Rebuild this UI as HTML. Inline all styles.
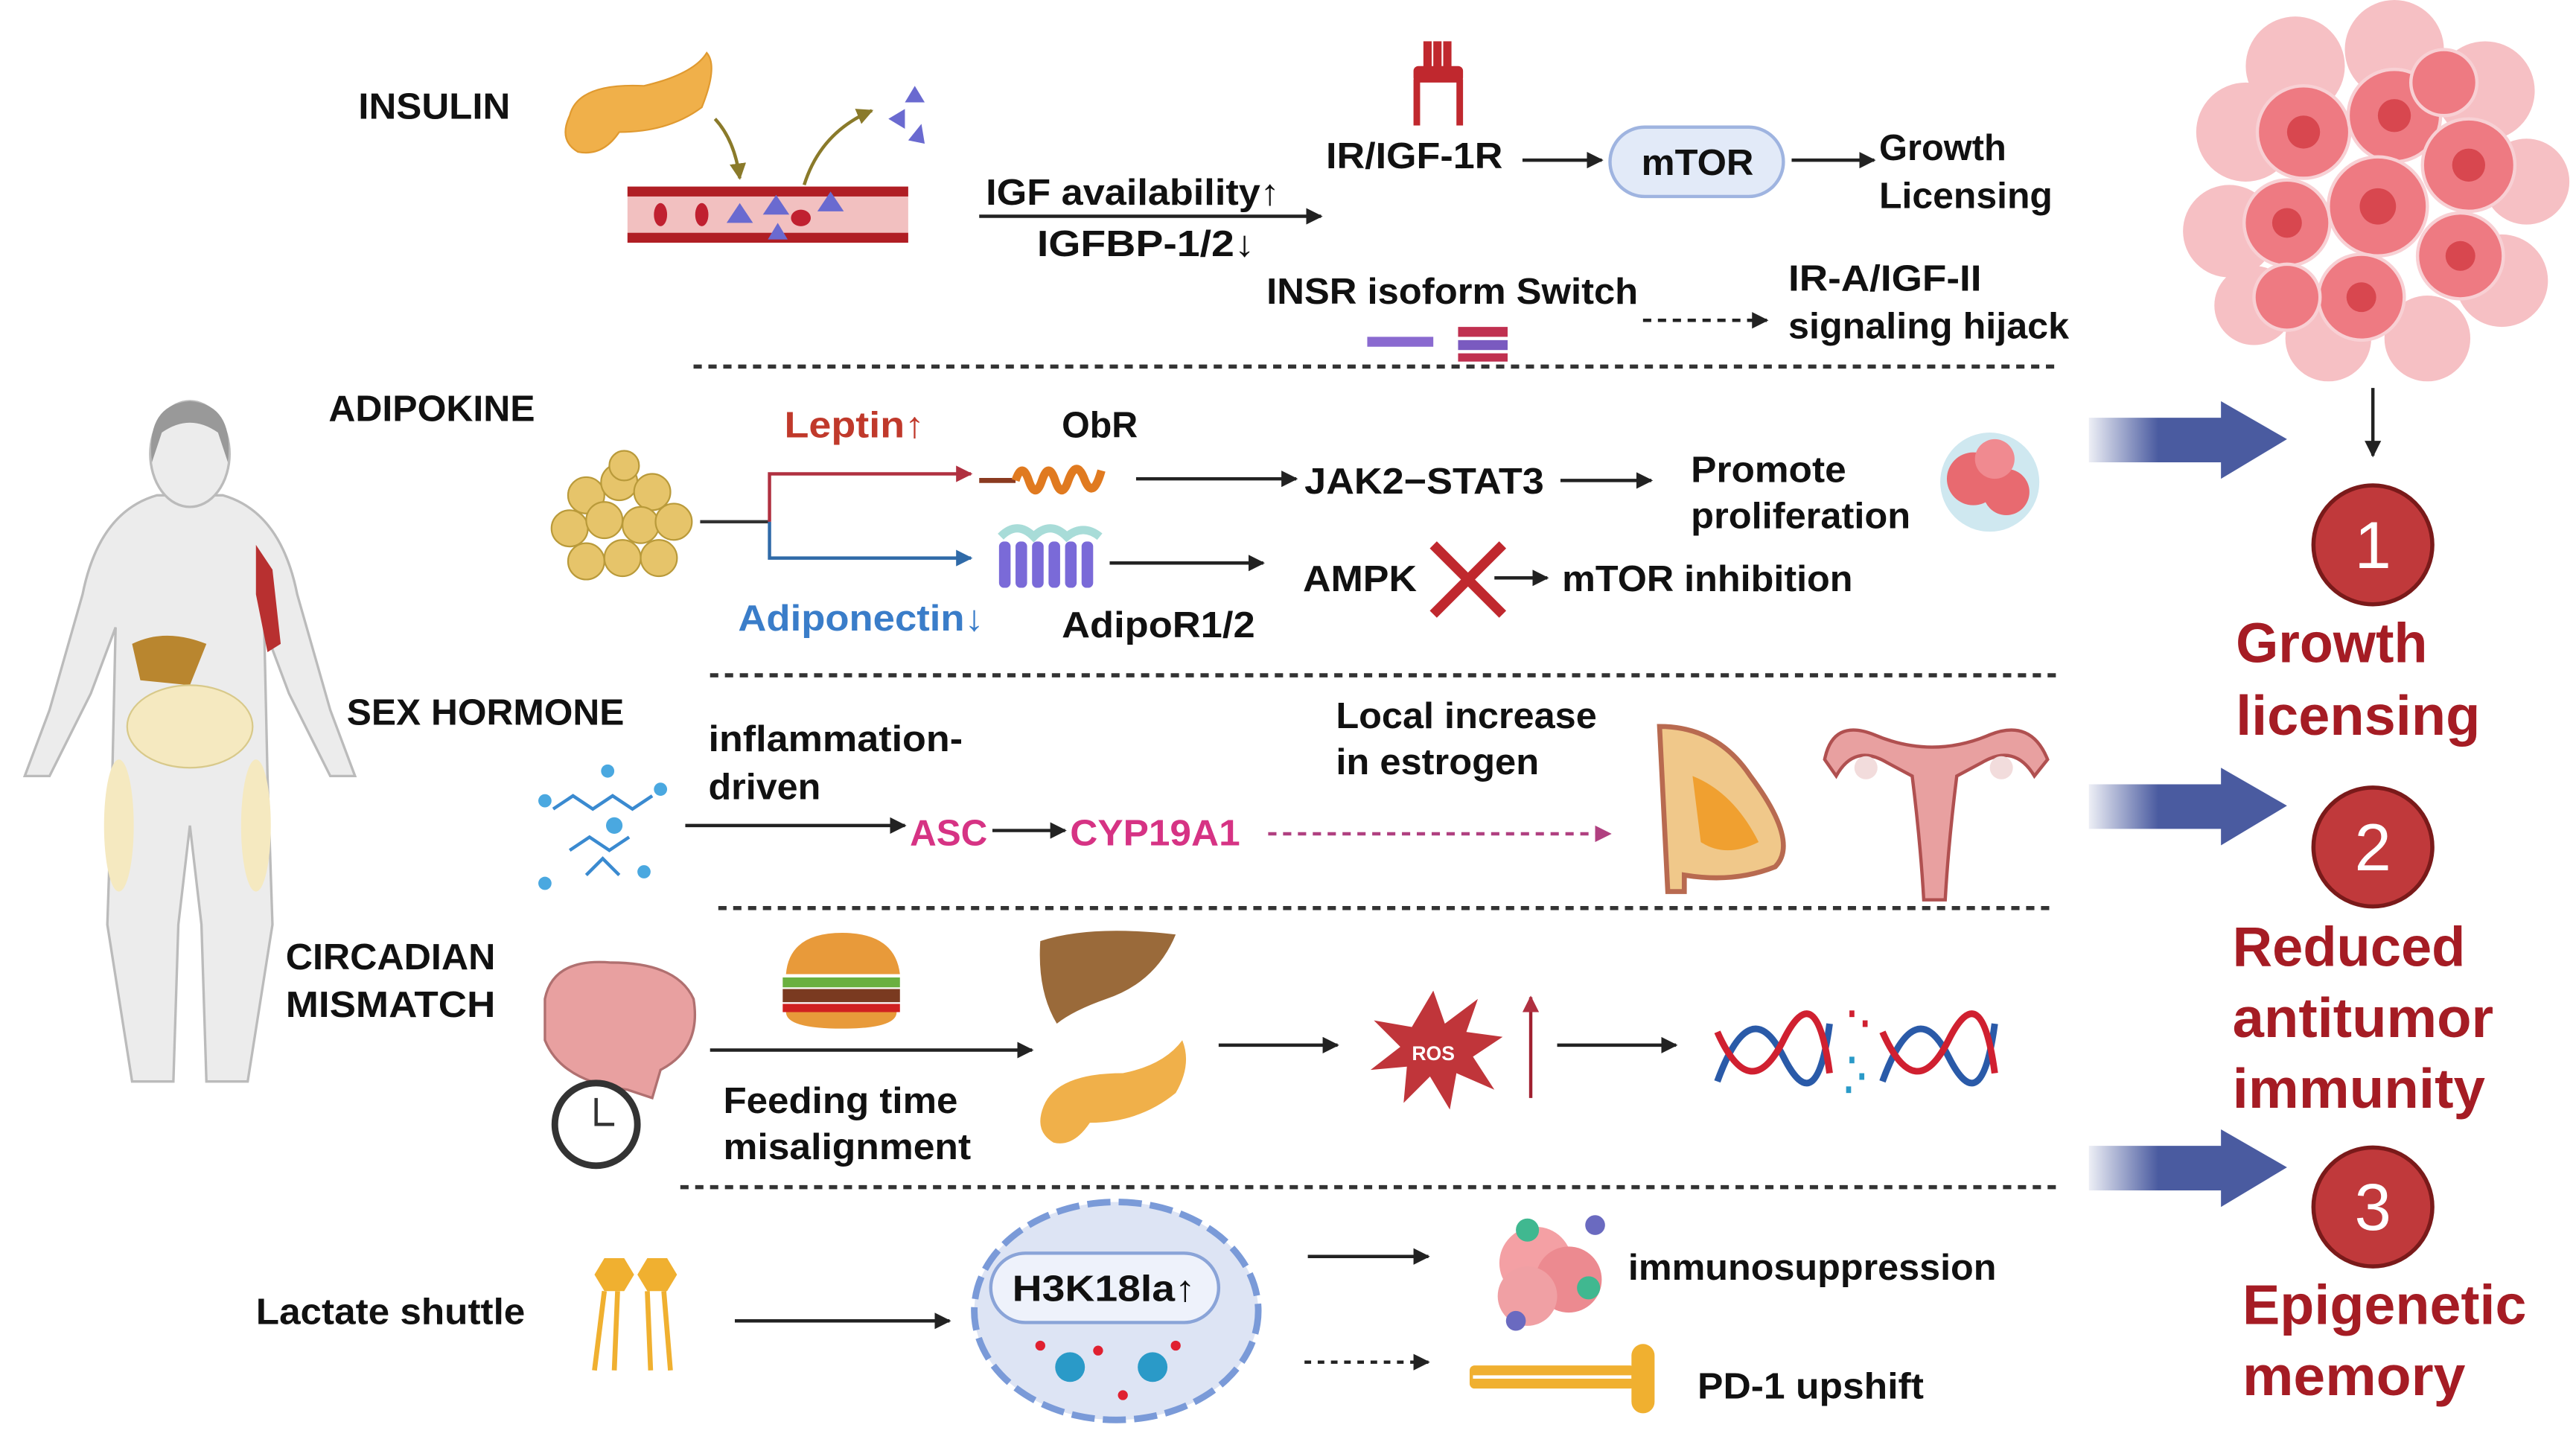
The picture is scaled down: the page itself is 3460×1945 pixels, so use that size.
<!DOCTYPE html>
<html><head><meta charset="utf-8"><style>
html,body{margin:0;padding:0;background:#fff;width:3460px;height:1945px;overflow:hidden}
svg{display:block}
text{font-family:"Liberation Sans",Arial,sans-serif;font-weight:bold;fill:#111}
.l{font-size:22px}
.r{font-size:34px;fill:#a51c24}
</style></head><body>
<svg width="3460" height="1945" viewBox="0 0 1560 877" preserveAspectRatio="none" xmlns="http://www.w3.org/2000/svg">
<defs>
<marker id="a" viewBox="0 0 10 10" refX="9" refY="5" markerWidth="5" markerHeight="5" orient="auto"><path d="M0,0L10,5L0,10z" fill="#222"/></marker>
<marker id="ar" viewBox="0 0 10 10" refX="9" refY="5" markerWidth="5" markerHeight="5" orient="auto"><path d="M0,0L10,5L0,10z" fill="#b03040"/></marker>
<marker id="ab" viewBox="0 0 10 10" refX="9" refY="5" markerWidth="5" markerHeight="5" orient="auto"><path d="M0,0L10,5L0,10z" fill="#2f6aa8"/></marker>
<marker id="ap" viewBox="0 0 10 10" refX="9" refY="5" markerWidth="5" markerHeight="5" orient="auto"><path d="M0,0L10,5L0,10z" fill="#b04080"/></marker>
<marker id="ao" viewBox="0 0 10 10" refX="9" refY="5" markerWidth="5" markerHeight="5" orient="auto"><path d="M0,0L10,5L0,10z" fill="#8a7a2a"/></marker>
<linearGradient id="g" x1="0" x2="1"><stop offset="0" stop-color="#4a5ba0" stop-opacity="0.1"/><stop offset="0.35" stop-color="#4a5ba0"/><stop offset="1" stop-color="#4a5ba0"/></linearGradient>
</defs>

<!-- human figure -->
<g fill="#ececec" stroke="#bbb" stroke-width="1.5">
<path d="M95,300 Q60,310 50,360 L30,430 L15,470 L30,470 L55,420 L70,380 L68,470 L65,560 L80,655 L105,655 L108,560 L115,500 L122,560 L125,655 L150,655 L165,560 L162,470 L160,380 L175,420 L200,470 L215,470 L200,430 L180,360 Q170,310 135,300 Z"/>
<ellipse cx="115" cy="275" rx="24" ry="32"/>
</g>
<path d="M92,280 Q88,245 115,243 Q142,245 138,280 L132,262 Q115,250 98,262 Z" fill="#999"/>
<path d="M80,390 Q100,380 125,390 L115,415 L85,412 Z" fill="#b9862f"/>
<ellipse cx="115" cy="440" rx="38" ry="25" fill="#f5e9c0" stroke="#d8c98a"/>
<path d="M155,330 L165,345 L170,390 L162,395 L155,360 Z" fill="#b83030"/>
<ellipse cx="72" cy="500" rx="9" ry="40" fill="#f5e9c0"/><ellipse cx="155" cy="500" rx="9" ry="40" fill="#f5e9c0"/>

<!-- left labels -->
<text class="l" x="217" y="72" textLength="92" lengthAdjust="spacingAndGlyphs">INSULIN</text>
<text class="l" x="199" y="255" textLength="125" lengthAdjust="spacingAndGlyphs">ADIPOKINE</text>
<text class="l" x="210" y="439" textLength="168" lengthAdjust="spacingAndGlyphs">SEX HORMONE</text>
<text class="l" x="173" y="587" textLength="127" lengthAdjust="spacingAndGlyphs">CIRCADIAN</text>
<text class="l" x="173" y="616" textLength="127" lengthAdjust="spacingAndGlyphs">MISMATCH</text>
<text class="l" x="155" y="802" textLength="163" lengthAdjust="spacingAndGlyphs" style="font-weight:600">Lactate shuttle</text>

<!-- INSULIN row -->
<path d="M345,70 Q350,50 390,52 Q420,45 428,32 Q435,40 425,65 Q405,80 375,80 Q365,95 350,92 Q338,85 345,70Z" fill="#f0b04a" stroke="#e09a30"/>
<rect x="380" y="113" width="170" height="34" fill="#f2c0c0"/>
<rect x="380" y="113" width="170" height="6" fill="#b01e24"/><rect x="380" y="141" width="170" height="6" fill="#b01e24"/>
<g fill="#c02030"><ellipse cx="400" cy="130" rx="4" ry="7"/><ellipse cx="425" cy="130" rx="4" ry="7"/><ellipse cx="485" cy="132" rx="6" ry="5"/></g>
<g fill="#6a6ad0"><path d="M440,135l8,-12l8,12z"/><path d="M462,130l8,-12l8,12z"/><path d="M495,128l8,-12l8,12z"/><path d="M465,145l6,-10l6,10z"/><path d="M538,72l10,-6l0,12z"/><path d="M548,62l6,-10l6,10z"/><path d="M550,85l8,-10l2,12z"/></g>
<path d="M433,72 Q445,85 448,108" stroke="#8a7a2a" stroke-width="2" fill="none" marker-end="url(#ao)"/>
<path d="M487,112 Q497,80 528,67" stroke="#8a7a2a" stroke-width="2" fill="none" marker-end="url(#ao)"/>

<text class="l" x="597" y="124" textLength="178" lengthAdjust="spacingAndGlyphs">IGF availability↑</text>
<line x1="593" y1="131" x2="800" y2="131" stroke="#222" stroke-width="2" marker-end="url(#a)"/>
<text class="l" x="628" y="155" textLength="132" lengthAdjust="spacingAndGlyphs">IGFBP-1/2↓</text>
<g fill="#c0282e"><rect x="862" y="25" width="5" height="22"/><rect x="868" y="25" width="5" height="22"/><rect x="874" y="25" width="5" height="22"/><rect x="856" y="40" width="30" height="10" rx="3"/><rect x="856" y="48" width="4" height="28"/><rect x="882" y="48" width="4" height="28"/></g>
<text class="l" x="803" y="102" textLength="107" lengthAdjust="spacingAndGlyphs">IR/IGF-1R</text>
<line x1="922" y1="97" x2="970" y2="97" stroke="#222" stroke-width="2" marker-end="url(#a)"/>
<rect x="975" y="77" width="105" height="42" rx="21" fill="#e2eaf8" stroke="#9fb4e0" stroke-width="2"/>
<text class="l" x="994" y="106" textLength="68" lengthAdjust="spacingAndGlyphs">mTOR</text>
<line x1="1085" y1="97" x2="1135" y2="97" stroke="#222" stroke-width="2" marker-end="url(#a)"/>
<text class="l" x="1138" y="97" textLength="77" lengthAdjust="spacingAndGlyphs">Growth</text>
<text class="l" x="1138" y="126" textLength="105" lengthAdjust="spacingAndGlyphs">Licensing</text>
<text class="l" x="767" y="184" textLength="225" lengthAdjust="spacingAndGlyphs">INSR isoform Switch</text>
<g><rect x="828" y="204" width="40" height="6" fill="#8a6ad0"/><rect x="883" y="198" width="30" height="6" fill="#c03050"/><rect x="883" y="206" width="30" height="6" fill="#7a5ac0"/><rect x="883" y="214" width="30" height="5" fill="#c03050"/></g>
<line x1="995" y1="194" x2="1070" y2="194" stroke="#222" stroke-width="2" stroke-dasharray="5,4" marker-end="url(#a)"/>
<text class="l" x="1083" y="176" textLength="117" lengthAdjust="spacingAndGlyphs">IR-A/IGF-II</text>
<text class="l" x="1083" y="205" textLength="170" lengthAdjust="spacingAndGlyphs">signaling hijack</text>

<g stroke="#333" stroke-width="2.5" stroke-dasharray="5,4">
<line x1="420" y1="222" x2="1248" y2="222"/><line x1="430" y1="409" x2="1248" y2="409"/><line x1="435" y1="550" x2="1245" y2="550"/><line x1="412" y1="719" x2="1248" y2="719"/>
</g>

<!-- ADIPOKINE -->
<g fill="#e6c46a" stroke="#b99a3a" stroke-width="1">
<circle cx="355" cy="300" r="11"/><circle cx="375" cy="292" r="11"/><circle cx="395" cy="298" r="11"/><circle cx="345" cy="320" r="11"/><circle cx="366" cy="315" r="11"/><circle cx="388" cy="318" r="11"/><circle cx="408" cy="316" r="11"/><circle cx="355" cy="340" r="11"/><circle cx="377" cy="338" r="11"/><circle cx="399" cy="338" r="11"/><circle cx="378" cy="282" r="9"/>
</g>
<line x1="424" y1="316" x2="466" y2="316" stroke="#333" stroke-width="2"/>
<path d="M466,316 V287 H588" fill="none" stroke="#b03040" stroke-width="2" marker-end="url(#ar)"/>
<path d="M466,316 V338 H588" fill="none" stroke="#2f6aa8" stroke-width="2" marker-end="url(#ab)"/>
<text class="l" x="475" y="265" style="fill:#c0392b" textLength="85" lengthAdjust="spacingAndGlyphs">Leptin↑</text>
<text class="l" x="643" y="265" textLength="46" lengthAdjust="spacingAndGlyphs">ObR</text>
<line x1="593" y1="291" x2="615" y2="291" stroke="#8a3a20" stroke-width="3"/>
<path d="M615,291 q4,-12 8,0 q4,12 8,0 q4,-12 8,0 q4,12 8,0 q5,-14 10,0 q5,12 10,-6" fill="none" stroke="#e07a20" stroke-width="5"/>
<line x1="688" y1="290" x2="785" y2="290" stroke="#222" stroke-width="2" marker-end="url(#a)"/>
<text class="l" x="790" y="299" textLength="145" lengthAdjust="spacingAndGlyphs">JAK2−STAT3</text>
<line x1="945" y1="291" x2="1000" y2="291" stroke="#222" stroke-width="2" marker-end="url(#a)"/>
<text class="l" x="1024" y="292" textLength="94" lengthAdjust="spacingAndGlyphs">Promote</text>
<text class="l" x="1024" y="320" textLength="133" lengthAdjust="spacingAndGlyphs">proliferation</text>
<g><circle cx="1205" cy="292" r="30" fill="#cfe8f0"/><circle cx="1195" cy="290" r="16" fill="#e86a70"/><circle cx="1215" cy="298" r="14" fill="#e86a70"/><circle cx="1208" cy="278" r="12" fill="#f08a90"/></g>
<g fill="#7a6ad8"><rect x="605" y="328" width="7" height="28" rx="3"/><rect x="615" y="328" width="7" height="28" rx="3"/><rect x="625" y="328" width="7" height="28" rx="3"/><rect x="635" y="328" width="7" height="28" rx="3"/><rect x="645" y="328" width="7" height="28" rx="3"/><rect x="655" y="328" width="7" height="28" rx="3"/></g>
<path d="M606,325 q10,-10 20,0 q10,-10 20,0 q10,-8 20,0" fill="none" stroke="#a8dcd8" stroke-width="5"/>
<line x1="672" y1="341" x2="765" y2="341" stroke="#222" stroke-width="2" marker-end="url(#a)"/>
<text class="l" x="447" y="382" style="fill:#3a7dc9" textLength="149" lengthAdjust="spacingAndGlyphs">Adiponectin↓</text>
<text class="l" x="643" y="386" textLength="117" lengthAdjust="spacingAndGlyphs">AdipoR1/2</text>
<text class="l" x="789" y="358" textLength="69" lengthAdjust="spacingAndGlyphs">AMPK</text>
<g stroke="#c0282e" stroke-width="6"><line x1="868" y1="330" x2="910" y2="372"/><line x1="910" y1="330" x2="868" y2="372"/></g>
<line x1="905" y1="350" x2="937" y2="350" stroke="#222" stroke-width="2" marker-end="url(#a)"/>
<text class="l" x="946" y="358" textLength="176" lengthAdjust="spacingAndGlyphs">mTOR inhibition</text>

<!-- SEX HORMONE -->
<g fill="none" stroke="#3a8ad0" stroke-width="2"><path d="M335,490 l12,-8 l12,8 l12,-8 l12,8 l12,-8"/><path d="M345,515 l12,-8 l12,8 l12,-8"/><path d="M355,530 l10,-10 l10,10"/></g>
<g fill="#4aa8e0"><circle cx="330" cy="485" r="4"/><circle cx="368" cy="467" r="4"/><circle cx="400" cy="478" r="4"/><circle cx="390" cy="528" r="4"/><circle cx="330" cy="535" r="4"/><circle cx="372" cy="500" r="5"/></g>
<text class="l" x="429" y="455" textLength="154" lengthAdjust="spacingAndGlyphs">inflammation-</text>
<text class="l" x="429" y="484" textLength="68" lengthAdjust="spacingAndGlyphs">driven</text>
<line x1="415" y1="500" x2="548" y2="500" stroke="#222" stroke-width="2" marker-end="url(#a)"/>
<text class="l" x="551" y="512" style="fill:#d63384" textLength="47" lengthAdjust="spacingAndGlyphs">ASC</text>
<line x1="601" y1="503" x2="645" y2="503" stroke="#222" stroke-width="2" marker-end="url(#a)"/>
<text class="l" x="648" y="512" style="fill:#d63384" textLength="103" lengthAdjust="spacingAndGlyphs">CYP19A1</text>
<line x1="768" y1="505" x2="975" y2="505" stroke="#b04080" stroke-width="2" stroke-dasharray="5,4" marker-end="url(#ap)"/>
<text class="l" x="809" y="441" textLength="158" lengthAdjust="spacingAndGlyphs">Local increase</text>
<text class="l" x="809" y="469" textLength="123" lengthAdjust="spacingAndGlyphs">in estrogen</text>
<path d="M1005,440 Q1040,440 1060,470 Q1090,510 1075,525 Q1050,535 1020,530 L1020,540 L1010,540 Z" fill="#f0c88a" stroke="#b86a50" stroke-width="3"/>
<path d="M1025,470 Q1050,480 1065,510 Q1045,520 1030,510 Z" fill="#f0a030"/>
<path d="M1105,460 Q1110,435 1135,445 Q1170,460 1205,445 Q1230,435 1240,460 L1232,470 Q1220,450 1200,462 L1185,470 Q1180,510 1178,545 L1165,545 Q1163,510 1158,470 L1143,462 Q1123,450 1112,470 Z" fill="#e8a0a0" stroke="#b05050" stroke-width="2"/>
<circle cx="1130" cy="465" r="7" fill="#f2dcdc"/><circle cx="1212" cy="465" r="7" fill="#f2dcdc"/>

<!-- CIRCADIAN -->
<path d="M330,605 Q335,580 370,583 Q410,583 420,605 Q425,635 400,648 L395,665 L380,660 Q340,655 330,630 Z" fill="#e8a0a0" stroke="#b07070" stroke-width="1.5"/>
<circle cx="361" cy="681" r="25" fill="#fff" stroke="#333" stroke-width="4"/><path d="M361,665 V681 H372" stroke="#333" stroke-width="2" fill="none"/>
<path d="M476,590 Q478,565 510,565 Q542,565 545,590Z" fill="#e89a3a"/><rect x="474" y="592" width="71" height="6" fill="#6ab040"/><rect x="474" y="599" width="71" height="8" fill="#7a3a20"/><rect x="474" y="608" width="71" height="5" fill="#d02020"/><path d="M476,613 H543 Q543,623 510,623 Q476,623 476,613Z" fill="#e89a3a"/>
<line x1="430" y1="636" x2="625" y2="636" stroke="#222" stroke-width="2" marker-end="url(#a)"/>
<text class="l" x="438" y="674" textLength="142" lengthAdjust="spacingAndGlyphs">Feeding time</text>
<text class="l" x="438" y="702" textLength="150" lengthAdjust="spacingAndGlyphs">misalignment</text>
<path d="M630,570 Q660,560 712,566 Q700,595 670,605 Q650,612 640,620 Q628,600 630,570Z" fill="#9a6a3a"/>
<path d="M632,670 Q640,650 680,650 Q705,645 716,630 Q722,645 712,662 Q690,680 660,680 Q650,695 638,692 Q626,685 632,670Z" fill="#f0b04a"/>
<line x1="738" y1="633" x2="810" y2="633" stroke="#222" stroke-width="2" marker-end="url(#a)"/>
<path d="M868,600 L875,620 L895,605 L888,625 L910,628 L892,640 L905,660 L882,650 L878,672 L866,652 L850,668 L852,646 L830,648 L848,634 L832,618 L855,622 Z" fill="#c0353a"/>
<text x="855" y="642" style="font-size:12px;fill:#fff">ROS</text>
<line x1="927" y1="665" x2="927" y2="604" stroke="#a02030" stroke-width="2" marker-end="url(#ar)"/>
<line x1="943" y1="633" x2="1015" y2="633" stroke="#222" stroke-width="2" marker-end="url(#a)"/>
<g fill="none" stroke-width="4"><path d="M1040,655 Q1060,600 1080,640 T1108,620" stroke="#2a5aa8"/><path d="M1040,625 Q1060,670 1080,630 T1108,650" stroke="#d02030"/><path d="M1140,655 Q1160,600 1180,640 T1208,620" stroke="#2a5aa8"/><path d="M1140,625 Q1160,670 1180,630 T1208,650" stroke="#d02030"/></g>
<g fill="#2a9ac8"><rect x="1120" y="640" width="3" height="4"/><rect x="1126" y="650" width="3" height="4"/><rect x="1118" y="658" width="3" height="4"/></g><g fill="#d02030"><rect x="1120" y="612" width="3" height="4"/><rect x="1128" y="618" width="3" height="4"/></g>

<!-- LACTATE -->
<g fill="#f0b030"><path d="M360,772 l6,-10 h12 l6,10 l-6,10 h-12z"/><path d="M386,772 l6,-10 h12 l6,10 l-6,10 h-12z"/></g>
<g stroke="#f0b030" stroke-width="3"><line x1="366" y1="782" x2="360" y2="830"/><line x1="374" y1="782" x2="372" y2="830"/><line x1="392" y1="782" x2="394" y2="830"/><line x1="402" y1="782" x2="406" y2="830"/></g>
<line x1="445" y1="800" x2="575" y2="800" stroke="#222" stroke-width="2" marker-end="url(#a)"/>
<ellipse cx="676" cy="794" rx="86" ry="66" fill="#dde4f4" stroke="#7a9ad8" stroke-width="4" stroke-dasharray="14,5"/>
<rect x="600" y="759" width="138" height="42" rx="21" fill="#eef2fb" stroke="#8aa4d8" stroke-width="2"/>
<text class="l" x="613" y="788" textLength="111" lengthAdjust="spacingAndGlyphs">H3K18la↑</text>
<g fill="#2a9ac8"><circle cx="648" cy="828" r="9"/><circle cx="698" cy="828" r="9"/></g><g fill="#e02030"><circle cx="630" cy="815" r="3"/><circle cx="665" cy="818" r="3"/><circle cx="680" cy="845" r="3"/><circle cx="712" cy="815" r="3"/></g>
<line x1="792" y1="761" x2="865" y2="761" stroke="#222" stroke-width="2" marker-end="url(#a)"/>
<line x1="790" y1="825" x2="865" y2="825" stroke="#222" stroke-width="2" stroke-dasharray="4,4" marker-end="url(#a)"/>
<g><circle cx="930" cy="765" r="22" fill="#f4a0a4"/><circle cx="950" cy="775" r="20" fill="#ec8a90"/><circle cx="925" cy="785" r="18" fill="#f0a0a4"/><circle cx="925" cy="745" r="7" fill="#40b890"/><circle cx="962" cy="780" r="7" fill="#40b890"/><circle cx="966" cy="742" r="6" fill="#6a6ac0"/><circle cx="918" cy="800" r="6" fill="#6a6ac0"/></g>
<text class="l" x="986" y="775" textLength="223" lengthAdjust="spacingAndGlyphs">immunosuppression</text>
<rect x="890" y="827" width="100" height="14" rx="3" fill="#f0b030"/><line x1="892" y1="834" x2="988" y2="834" stroke="#fff" stroke-width="2"/>
<rect x="988" y="814" width="14" height="42" rx="7" fill="#f0b030"/>
<text class="l" x="1028" y="847" textLength="137" lengthAdjust="spacingAndGlyphs">PD-1 upshift</text>

<!-- right column: tumor cluster -->
<g>
<g fill="#f6c0c4"><circle cx="1360" cy="80" r="30"/><circle cx="1350" cy="140" r="28"/><circle cx="1390" cy="40" r="30"/><circle cx="1450" cy="30" r="30"/><circle cx="1505" cy="55" r="30"/><circle cx="1530" cy="110" r="26"/><circle cx="1515" cy="170" r="28"/><circle cx="1470" cy="205" r="26"/><circle cx="1410" cy="205" r="26"/><circle cx="1365" cy="185" r="24"/></g>
<g fill="#ee7a82" stroke="#f8d0d4" stroke-width="2"><circle cx="1395" cy="80" r="28"/><circle cx="1450" cy="70" r="28"/><circle cx="1495" cy="100" r="28"/><circle cx="1385" cy="135" r="26"/><circle cx="1440" cy="125" r="30"/><circle cx="1490" cy="155" r="26"/><circle cx="1430" cy="180" r="26"/><circle cx="1385" cy="180" r="20"/><circle cx="1480" cy="50" r="20"/></g>
<g fill="#d8474f"><circle cx="1395" cy="80" r="10"/><circle cx="1450" cy="70" r="10"/><circle cx="1495" cy="100" r="10"/><circle cx="1385" cy="135" r="9"/><circle cx="1440" cy="125" r="11"/><circle cx="1490" cy="155" r="9"/><circle cx="1430" cy="180" r="9"/></g>
</g>
<line x1="1437" y1="235" x2="1437" y2="276" stroke="#222" stroke-width="2" marker-end="url(#a)"/>
<g fill="url(#g)">
<path d="M1265,253 H1345 V243 L1385,266 L1345,290 V280 H1265Z"/>
<path d="M1265,475 H1345 V465 L1385,488 L1345,512 V502 H1265Z"/>
<path d="M1265,694 H1345 V684 L1385,707 L1345,731 V721 H1265Z"/>
</g>
<g fill="#c0393b" stroke="#7a1a1a" stroke-width="2.5"><circle cx="1437" cy="330" r="36"/><circle cx="1437" cy="513" r="36"/><circle cx="1437" cy="731" r="36"/></g>
<g style="font-size:40px" text-anchor="middle"><text x="1437" y="344" style="fill:#fff;font-weight:normal">1</text><text x="1437" y="527" style="fill:#fff;font-weight:normal">2</text><text x="1437" y="745" style="fill:#fff;font-weight:normal">3</text></g>
<text class="r" x="1354" y="401" textLength="116" lengthAdjust="spacingAndGlyphs">Growth</text>
<text class="r" x="1354" y="445" textLength="148" lengthAdjust="spacingAndGlyphs">licensing</text>
<text class="r" x="1352" y="585" textLength="141" lengthAdjust="spacingAndGlyphs">Reduced</text>
<text class="r" x="1352" y="628" textLength="158" lengthAdjust="spacingAndGlyphs">antitumor</text>
<text class="r" x="1352" y="671" textLength="153" lengthAdjust="spacingAndGlyphs">immunity</text>
<text class="r" x="1358" y="802" textLength="172" lengthAdjust="spacingAndGlyphs">Epigenetic</text>
<text class="r" x="1358" y="845" textLength="135" lengthAdjust="spacingAndGlyphs">memory</text>
</svg>
</body></html>
